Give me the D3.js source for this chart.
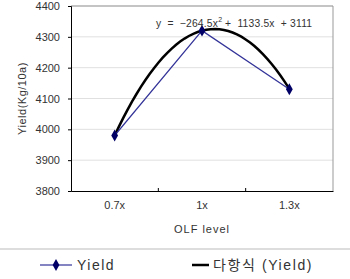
<!DOCTYPE html>
<html>
<head>
<meta charset="utf-8">
<script src="https://cdn.jsdelivr.net/npm/d3@7"></script>
<style>
body{margin:0;background:#fff;}
text{font-family:"Liberation Sans","Noto Sans CJK KR",sans-serif;fill:#333;}
</style>
</head>
<body>
<script>
var levels=["0.7x","1x","1.3x"];
var yieldVals=[3980,4320,4130];
var yTicks=[3800,3900,4000,4100,4200,4300,4400];
// trendline coefficients from the chart label: a*x^2 + b*x + c
var trendCoef=[-264.5,1133.5,3111];
var trendLabel="y  =  \u2212264.5x";
var trendLabel2=" +  1133.5x  + 3111";

var screen={width:350,height:279};
var m={left:71,right:333,top:6,bottom:191};

var svg=d3.select("body").append("svg")
  .attr("width",screen.width)
  .attr("height",screen.height);

var x=d3.scaleBand().domain(levels).range([m.left,m.right]);
var y=d3.scaleLinear().domain([3800,4400]).range([m.bottom,m.top]);

// gridlines
svg.append("g").selectAll("line")
  .data(yTicks.slice(1))
  .enter().append("line")
  .attr("x1",m.left).attr("x2",m.right)
  .attr("y1",function(d){return y(d)}).attr("y2",function(d){return y(d)})
  .attr("stroke","#e0e0e0").attr("stroke-width",1);

// plot frame (top/right grey)
svg.append("path")
  .attr("d","M"+m.left+","+m.top+"H"+m.right+"V"+m.bottom)
  .attr("fill","none").attr("stroke","#999");

// y axis
var yAxis=svg.append("g")
  .attr("transform","translate("+m.left+",0)")
  .call(d3.axisLeft(y).tickValues(yTicks).tickSize(3).tickFormat(d3.format("d")));
yAxis.select(".domain").attr("stroke","#000");
yAxis.selectAll(".tick line").attr("stroke","#000");
yAxis.selectAll("text").attr("font-size",11).attr("dx",-5).attr("fill","#444");

// x axis
var xAxis=svg.append("g")
  .attr("transform","translate(0,"+m.bottom+")")
  .call(d3.axisBottom(x).tickSize(0).tickSizeOuter(0));
xAxis.select(".domain").attr("stroke","#000");
xAxis.selectAll(".tick line").remove();
xAxis.selectAll("text").attr("font-size",11).attr("dy","1.4em").attr("fill","#444");
// tick marks at band boundaries
svg.append("g").selectAll("line")
  .data(levels.slice(1))
  .enter().append("line")
  .attr("x1",function(d){return x(d)}).attr("x2",function(d){return x(d)})
  .attr("y1",m.bottom-3).attr("y2",m.bottom)
  .attr("stroke","#000");

// axis titles
svg.append("text")
  .attr("x",(m.left+m.right)/2).attr("y",233)
  .attr("text-anchor","middle").attr("font-size",11)
  .attr("letter-spacing","1").attr("fill","#444")
  .text("OLF level");
svg.append("text")
  .attr("transform","translate(26,"+((m.top+m.bottom)/2)+") rotate(-90)")
  .attr("text-anchor","middle").attr("font-size",11)
  .attr("letter-spacing","0.5").attr("fill","#444")
  .text("Yield(Kg/10a)");

// trendline (fitted polynomial over category index 1..3)
var tx=d3.scaleLinear().domain([1,levels.length])
  .range([x(levels[0])+x.bandwidth()/2,x(levels[levels.length-1])+x.bandwidth()/2]);
var trendPts=d3.range(1,3.0001,0.05).map(function(k){
  return [tx(k),y(trendCoef[0]*k*k+trendCoef[1]*k+trendCoef[2])];
});
svg.append("path")
  .attr("d",d3.line()(trendPts))
  .attr("fill","none").attr("stroke","#000").attr("stroke-width",2.5);

// yield series
var line=d3.line()
  .x(function(d,i){return x(levels[i])+x.bandwidth()/2})
  .y(function(d){return y(d)});
svg.append("path")
  .attr("d",line(yieldVals))
  .attr("fill","none").attr("stroke","#333399").attr("stroke-width",1.2);
svg.append("g").selectAll("path")
  .data(yieldVals).enter().append("path")
  .attr("d",d3.symbol().type(d3.symbolDiamond).size(40))
  .attr("transform",function(d,i){return "translate("+(x(levels[i])+x.bandwidth()/2)+","+y(d)+")"})
  .attr("fill","#000066");

// equation label
var eq=svg.append("text")
  .attr("x",156).attr("y",27).attr("font-size",10.3).attr("fill","#222")
  .attr("xml:space","preserve");
eq.append("tspan").attr("letter-spacing","0.2").text(trendLabel);
eq.append("tspan").attr("font-size",7).attr("dy",-5).text("2");
eq.append("tspan").attr("dy",5).attr("letter-spacing","0.2").text(trendLabel2);

// legend
svg.append("line")
  .attr("x1",0).attr("x2",screen.width).attr("y1",249).attr("y2",249)
  .attr("stroke","#bbb");
var lg=svg.append("g");
lg.append("line").attr("x1",40).attr("x2",72).attr("y1",265).attr("y2",265)
  .attr("stroke","#333399").attr("stroke-width",1.2);
lg.append("path").attr("d",d3.symbol().type(d3.symbolDiamond).size(40))
  .attr("transform","translate(56,265)").attr("fill","#000066");
lg.append("text").attr("x",77).attr("y",270).attr("font-size",14)
  .attr("letter-spacing","1.5").text("Yield");
lg.append("line").attr("x1",192).attr("x2",209).attr("y1",265).attr("y2",265)
  .attr("stroke","#000").attr("stroke-width",2.5);
lg.append("text").attr("x",213).attr("y",270).attr("font-size",14)
  .attr("letter-spacing","1.6")
  .text("다항식 (Yield)");
</script>
</body>
</html>
